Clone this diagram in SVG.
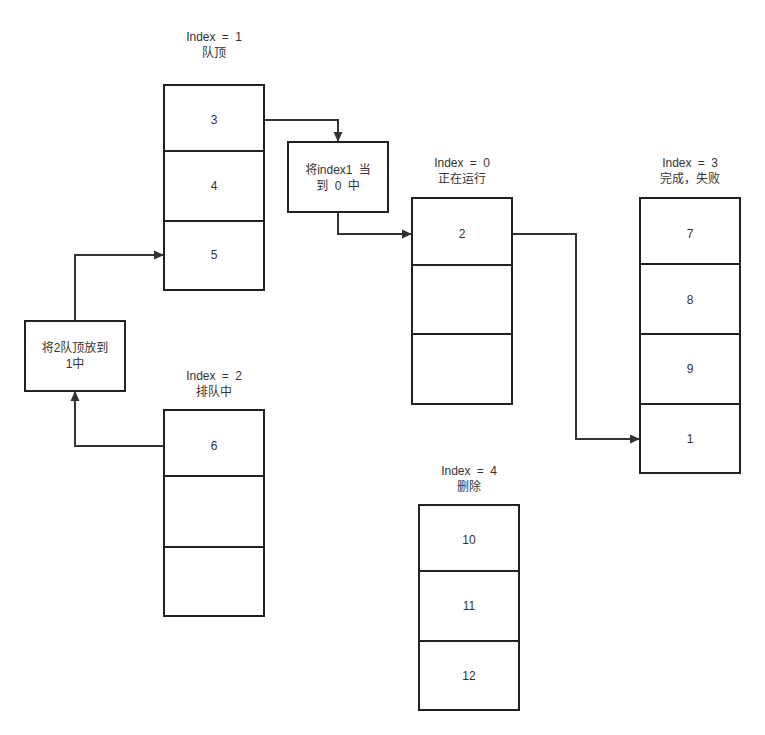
<svg xmlns="http://www.w3.org/2000/svg" width="765" height="735" viewBox="0 0 765 735">
<style>
.cell{fill:#fff;stroke:#1e2226;stroke-width:2}
.box{fill:#fff;stroke:#1e2226;stroke-width:2}
.edge{fill:none;stroke:#333;stroke-width:2}
text{font-family:"Liberation Sans","Noto Sans CJK SC",sans-serif;font-size:12px;fill:#333;text-anchor:middle;dominant-baseline:central;word-spacing:3px}
</style>
<defs>
<marker id="arr" markerWidth="10" markerHeight="10" refX="9" refY="5" orient="auto" markerUnits="userSpaceOnUse">
<path d="M0,0.5 L10,5 L0,9.5 Z" fill="#333"/>
</marker>
</defs>
<rect width="765" height="735" fill="#fff"/>
<g id="connectors">
<path class="edge" d="M264,120 H338 V141" marker-end="url(#arr)"/>
<path class="edge" d="M338,212 V234 H411" marker-end="url(#arr)"/>
<path class="edge" d="M512,234 H576 V439 H639" marker-end="url(#arr)"/>
<path class="edge" d="M164,446 H75 V392" marker-end="url(#arr)"/>
<path class="edge" d="M75,321 V255 H163" marker-end="url(#arr)"/>
</g>
<g id="stack1">
<text x="214" y="37">Index = 1</text>
<text x="214" y="53">队顶</text>
<rect class="cell" x="164" y="85" width="100" height="66"/>
<rect class="cell" x="164" y="151" width="100" height="70"/>
<rect class="cell" x="164" y="221" width="100" height="69"/>
<text x="214" y="120">3</text>
<text x="214" y="186">4</text>
<text x="214" y="255">5</text>
</g>
<g id="move1to0">
<rect class="box" x="288" y="142" width="100" height="70"/>
<text x="338" y="170">将index1 当</text>
<text x="338" y="186">到 0 中</text>
</g>
<g id="stack0">
<text x="462" y="163">Index = 0</text>
<text x="462" y="179">正在运行</text>
<rect class="cell" x="412" y="198" width="100" height="67"/>
<rect class="cell" x="412" y="265" width="100" height="69"/>
<rect class="cell" x="412" y="334" width="100" height="70"/>
<text x="462" y="234">2</text>
</g>
<g id="stack3">
<text x="690" y="163">Index = 3</text>
<text x="690" y="179">完成，失败</text>
<rect class="cell" x="640" y="198" width="100" height="66"/>
<rect class="cell" x="640" y="264" width="100" height="70"/>
<rect class="cell" x="640" y="334" width="100" height="70"/>
<rect class="cell" x="640" y="404" width="100" height="69"/>
<text x="690" y="234">7</text>
<text x="690" y="300">8</text>
<text x="690" y="369">9</text>
<text x="690" y="439">1</text>
</g>
<g id="move2to1">
<rect class="box" x="25" y="321" width="100" height="70"/>
<text x="75" y="348">将2队顶放到</text>
<text x="75" y="364">1中</text>
</g>
<g id="stack2">
<text x="214" y="376">Index = 2</text>
<text x="214" y="392">排队中</text>
<rect class="cell" x="164" y="410" width="100" height="66"/>
<rect class="cell" x="164" y="476" width="100" height="71"/>
<rect class="cell" x="164" y="547" width="100" height="69"/>
<text x="214" y="446">6</text>
</g>
<g id="stack4">
<text x="469" y="471">Index = 4</text>
<text x="469" y="487">删除</text>
<rect class="cell" x="419" y="505" width="100" height="66"/>
<rect class="cell" x="419" y="571" width="100" height="70"/>
<rect class="cell" x="419" y="641" width="100" height="69"/>
<text x="469" y="540">10</text>
<text x="469" y="606">11</text>
<text x="469" y="676">12</text>
</g>
</svg>
